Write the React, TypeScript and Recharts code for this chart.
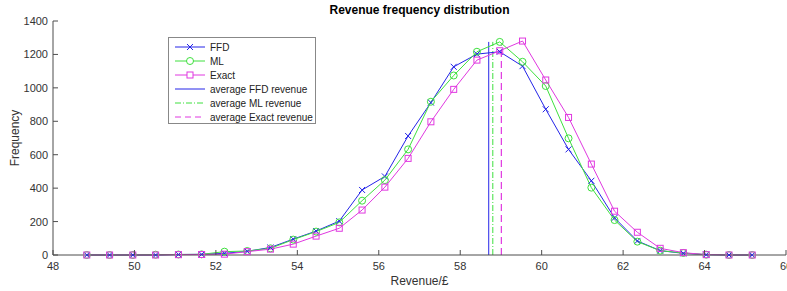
import React from 'react'
import { LineChart, Line, XAxis, YAxis } from 'recharts'

// bin centres (revenue, £)
const revenue = [
  48.83, 49.39, 49.96, 50.52, 51.08, 51.65, 52.21, 52.77, 53.34, 53.9,
  54.46, 55.03, 55.59, 56.15, 56.72, 57.28, 57.84, 58.41, 58.97, 59.53,
  60.1, 60.66, 61.22, 61.79, 62.35, 62.91, 63.48, 64.04, 64.6, 65.17,
]

const ffdFreq = [0, 0, 0, 0, 3, 4, 10, 22, 45, 95, 143, 203, 389, 470, 712, 912, 1126, 1202, 1216, 1130, 872, 632, 444, 222, 84, 26, 10, 2, 0, 0]
const mlFreq = [0, 0, 0, 2, 3, 4, 20, 24, 40, 92, 140, 195, 325, 448, 632, 917, 1074, 1216, 1275, 1156, 1011, 698, 403, 209, 80, 26, 12, 2, 0, 0]
const exactFreq = [0, 0, 0, 0, 2, 3, 5, 20, 35, 65, 113, 160, 269, 406, 578, 797, 991, 1166, 1222, 1280, 1047, 823, 544, 262, 136, 40, 14, 2, 0, 0]

const avgFFD = 58.7
const avgML = 58.8
const avgExact = 59.01
const avgTop = 1275

const xTicks = [48, 50, 52, 54, 56, 58, 60, 62, 64, 66]
const yTicks = [0, 200, 400, 600, 800, 1000, 1200, 1400]

const BLUE = '#2424e8'
const GREEN = '#3ee03e'
const MAGENTA = '#e038e0'
const AXIS = '#4d4d4d'
const FONT = '"Liberation Sans", Arial, Helvetica, sans-serif'

const data = revenue.map((x, i) => ({
  x,
  ffd: ffdFreq[i],
  ml: mlFreq[i],
  exact: exactFreq[i],
}))

// two-point vertical segments for the averages
const ffdAvgLine = [{ x: avgFFD, v: 0 }, { x: avgFFD, v: avgTop }]
const mlAvgLine = [{ x: avgML, v: 0 }, { x: avgML, v: avgTop }]
const exactAvgLine = [{ x: avgExact, v: 0 }, { x: avgExact, v: avgTop - 20 }]

const CrossDot = (props: any) => {
  const { cx, cy, key } = props
  if (cx == null || cy == null) return null
  const s = 3
  return (
    <path
      key={key}
      d={`M${cx - s},${cy - s}L${cx + s},${cy + s}M${cx - s},${cy + s}L${cx + s},${cy - s}`}
      stroke={BLUE}
      strokeWidth={1}
    />
  )
}

const CircleDot = (props: any) => {
  const { cx, cy, key } = props
  if (cx == null || cy == null) return null
  return <circle key={key} cx={cx} cy={cy} r={3.5} fill="none" stroke={GREEN} strokeWidth={1} />
}

const SquareDot = (props: any) => {
  const { cx, cy, key } = props
  if (cx == null || cy == null) return null
  return <rect key={key} x={cx - 3} y={cy - 3} width={6} height={6} fill="none" stroke={MAGENTA} strokeWidth={1} />
}

// MATLAB style ticks pointing into the plot
const XTick = ({ x, y, payload }: any) => (
  <g>
    <line x1={x} y1={y} x2={x} y2={y - 5} stroke={AXIS} />
    <text x={x} y={y + 15} textAnchor="middle" fontSize={11} fill="#333" fontFamily={FONT}>
      {payload.value}
    </text>
  </g>
)

const YTick = ({ x, y, payload }: any) => (
  <g>
    <line x1={x} y1={y} x2={x + 5} y2={y} stroke={AXIS} />
    <text x={x - 5} y={y + 4} textAnchor="end" fontSize={11} fill="#333" fontFamily={FONT}>
      {payload.value}
    </text>
  </g>
)

const legendItems = [
  { label: 'FFD', color: BLUE, dash: undefined, marker: 'x' },
  { label: 'ML', color: GREEN, dash: undefined, marker: 'o' },
  { label: 'Exact', color: MAGENTA, dash: undefined, marker: 's' },
  { label: 'average FFD revenue', color: BLUE, dash: undefined, marker: '' },
  { label: 'average ML revenue', color: GREEN, dash: '6 2 1 2', marker: '' },
  { label: 'average Exact revenue', color: MAGENTA, dash: '6 4', marker: '' },
]

const LegendBox = () => (
  <div
    style={{
      position: 'absolute',
      left: 168,
      top: 37,
      boxSizing: 'border-box',
      width: 148,
      height: 87,
      border: '1px solid #888',
      background: '#fff',
      padding: '2px 0 0 5px',
      fontFamily: FONT,
      fontSize: 10,
      color: '#222',
      whiteSpace: 'nowrap',
    }}
  >
    {legendItems.map(item => (
      <div key={item.label} style={{ display: 'flex', alignItems: 'center', height: 14 }}>
        <svg width={32} height={10} style={{ marginRight: 4, flexShrink: 0 }}>
          <line x1={1} y1={5} x2={31} y2={5} stroke={item.color} strokeDasharray={item.dash} />
          {item.marker === 'x' && <path d="M13,2L19,8M13,8L19,2" stroke={item.color} />}
          {item.marker === 'o' && <circle cx={16} cy={5} r={3.5} fill="#fff" stroke={item.color} />}
          {item.marker === 's' && <rect x={13} y={2} width={6} height={6} fill="#fff" stroke={item.color} />}
        </svg>
        <span>{item.label}</span>
      </div>
    ))}
  </div>
)

export default function App() {
  return (
    <div style={{ position: 'absolute', left: 0, top: 0, width: 787, height: 291, background: '#fff' }}>
      <div
        style={{
          position: 'absolute',
          top: 3,
          left: 53,
          width: 733,
          textAlign: 'center',
          fontFamily: FONT,
          fontSize: 12,
          fontWeight: 'bold',
          color: '#000',
        }}
      >
        Revenue frequency distribution
      </div>
      <LineChart width={787} height={291} data={data} margin={{ top: 21, right: 1, bottom: 0, left: 0 }}>
        <XAxis
          dataKey="x"
          type="number"
          domain={[48, 66]}
          ticks={xTicks}
          interval={0}
          height={36}
          tickSize={0}
          tickMargin={0}
          tickLine={false}
          axisLine={{ stroke: AXIS }}
          tick={<XTick />}
          allowDataOverflow
        />
        <YAxis
          type="number"
          domain={[0, 1400]}
          ticks={yTicks}
          interval={0}
          width={53}
          tickSize={0}
          tickMargin={0}
          tickLine={false}
          axisLine={{ stroke: AXIS }}
          tick={<YTick />}
        />
        <Line data={ffdAvgLine} dataKey="v" stroke={BLUE} strokeWidth={1} dot={false} activeDot={false} isAnimationActive={false} />
        <Line data={mlAvgLine} dataKey="v" stroke={GREEN} strokeWidth={1} strokeDasharray="6 2 1 2" dot={false} activeDot={false} isAnimationActive={false} />
        <Line data={exactAvgLine} dataKey="v" stroke={MAGENTA} strokeWidth={1.2} strokeDasharray="7 4" dot={false} activeDot={false} isAnimationActive={false} />
        <Line dataKey="ffd" stroke={BLUE} strokeWidth={1} dot={CrossDot} activeDot={false} isAnimationActive={false} />
        <Line dataKey="ml" stroke={GREEN} strokeWidth={1} dot={CircleDot} activeDot={false} isAnimationActive={false} />
        <Line dataKey="exact" stroke={MAGENTA} strokeWidth={1} dot={SquareDot} activeDot={false} isAnimationActive={false} />
      </LineChart>
      <LegendBox />
      <div
        style={{
          position: 'absolute',
          top: 274,
          left: 53,
          width: 733,
          textAlign: 'center',
          fontFamily: FONT,
          fontSize: 12,
          color: '#333',
        }}
      >
        Revenue/£
      </div>
      <div
        style={{
          position: 'absolute',
          left: 15,
          top: 138,
          transform: 'translate(-50%, -50%) rotate(-90deg)',
          fontFamily: FONT,
          fontSize: 12,
          color: '#333',
        }}
      >
        Frequency
      </div>
    </div>
  )
}
